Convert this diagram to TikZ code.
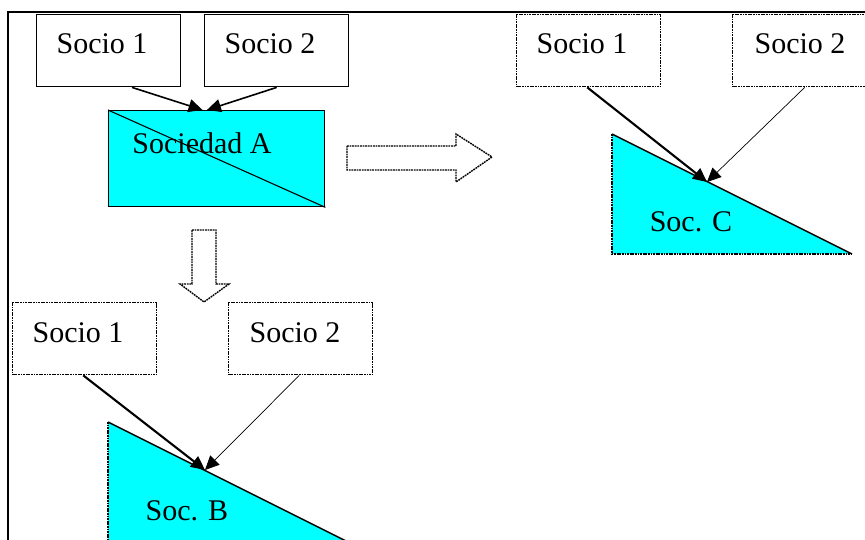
\documentclass[tikz,border=0pt]{standalone}
\usepackage{fontspec}
\setmainfont{Liberation Serif}
\usetikzlibrary{arrows.meta,calc}
\definecolor{socfill}{RGB}{0,255,255}
\tikzset{
  boxbase/.style={draw, line width=1.4pt, fill=white, minimum width=144pt,
    minimum height=72pt, inner sep=0pt, anchor=north west},
  solidbox/.style={boxbase},
  dashbox/.style={boxbase, dash pattern=on 1.8pt off 0.8pt},
  lbl/.style={anchor=base, inner sep=0pt, font=\fontsize{30}{36}\selectfont},
  link/.style={-{Triangle[length=14pt,width=13pt]}},
  thicklink/.style={link, line width=2.1pt},
  thinlink/.style={link, line width=0.7pt},
  midlink/.style={link, line width=1.6pt},
  dotline/.style={line width=1.4pt, dash pattern=on 1.8pt off 0.8pt},
  blockarrow/.style={draw, fill=white, dotline},
}
\begin{document}
\begin{tikzpicture}[x=1pt, y=-1pt]
  \useasboundingbox (0,0) rectangle (865,540);

  % outer frame (left and top edges)
  \draw[line width=1.7pt] (8,540) -- (8,12) -- (866,12);

  % --- Sociedad A group ---
  \node[draw, fill=socfill, line width=1.4pt, minimum width=216pt, minimum height=96pt,
        inner sep=0pt, anchor=north west] (sa) at (108,110) {};
  \draw[line width=1.1pt] (sa.north west) -- (sa.south east);
  \node[lbl] (satext) at (202,154) {Sociedad A};

  \node[solidbox] (a1) at (36,14) {};
  \node[lbl] (a1t) at (102,54) {Socio 1};
  \node[solidbox] (a2) at (204,14) {};
  \node[lbl] (a2t) at (270,54) {Socio 2};

  \draw[midlink] ($(a1.south west)!0.66!(a1.south east)$) -- ($(sa.north west)!0.435!(sa.north east)$);
  \draw[midlink] (a2.south) -- ($(sa.north west)!0.455!(sa.north east)$);

  % --- transition arrows ---
  \draw[blockarrow] (347,146) -- (456,146) -- (456,134) -- (492,157) -- (456,182)
        -- (456,170) -- (347,170) -- cycle;
  \draw[blockarrow] (192,230) -- (216,230) -- (216,284) -- (229,284) -- (204,302)
        -- (180,284) -- (192,284) -- cycle;

  % --- Soc. C group ---
  \coordinate (c1) at (612,134);
  \coordinate (c2) at (612,254);
  \coordinate (c3) at (852,254);
  \fill[socfill] (c1) -- (c2) -- (c3) -- cycle;
  \draw[dotline] (c1) -- (c2) -- (c3);
  \draw[line width=1.4pt] (c3) -- (c1);
  \coordinate (ctip) at (707,182);
  \node[lbl] (ct) at (691,232) {Soc. C};

  \node[dashbox] (c1box) at (516,14) {};
  \node[lbl] (c1t) at (582,54) {Socio 1};
  \node[dashbox] (c2box) at (732,14) {};
  \node[lbl] (c2t) at (800,54) {Socio 2};

  \draw[thicklink] ($(c1box.south west)!0.49!(c1box.south east)$) -- (ctip);
  \draw[thinlink] ($(c2box.south west)!0.5!(c2box.south east)$) -- (ctip);

  % --- Soc. B group ---
  \coordinate (b1) at (108,422);
  \coordinate (b2) at (108,542);
  \coordinate (b3) at (348,542);
  \fill[socfill] (b1) -- (b2) -- (b3) -- cycle;
  \draw[dotline] (b1) -- (b2);
  \draw[line width=1.4pt] (b3) -- (b1);
  \coordinate (btip) at (205,470);
  \node[lbl] (bt) at (187,520) {Soc. B};

  \node[dashbox] (b1box) at (12,302) {};
  \node[lbl] (b1t) at (78,342) {Socio 1};
  \node[dashbox] (b2box) at (228,302) {};
  \node[lbl] (b2t) at (295,342) {Socio 2};

  \draw[thicklink] ($(b1box.south west)!0.49!(b1box.south east)$) -- (btip);
  \draw[thinlink] ($(b2box.south west)!0.49!(b2box.south east)$) -- (btip);
\end{tikzpicture}
\end{document}
